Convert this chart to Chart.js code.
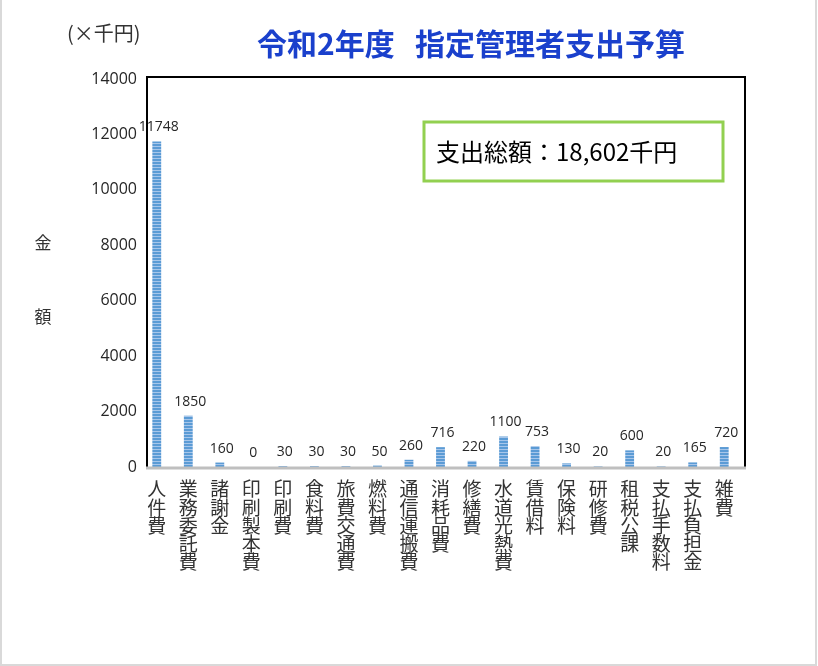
<!DOCTYPE html>
<html lang="ja">
<head>
    <meta charset="UTF-8">
    <title>令和2年度 指定管理者支出予算</title>
    <style>
        body {
            margin: 0;
            padding: 0;
            background-color: #fff;
        }
        #wrap {
            position: relative;
            width: 818px;
            height: 666px;
        }
    </style>
</head>
<body>
    <div id="wrap">
        <canvas id="budgetChart" width="818" height="666"></canvas>
    </div>

    <script src="https://cdn.jsdelivr.net/npm/chart.js"></script>
    <script>
        const categories = ['人件費', '業務委託費', '諸謝金', '印刷製本費', '印刷費', '食料費', '旅費交通費', '燃料費', '通信運搬費', '消耗品費', '修繕費', '水道光熱費', '賃借料', '保険料', '研修費', '租税公課', '支払手数料', '支払負担金', '雑費'];
        const amounts = [11748, 1850, 160, 0, 30, 30, 30, 50, 260, 716, 220, 1100, 753, 130, 20, 600, 20, 165, 720];
        const yTicks = [0, 2000, 4000, 6000, 8000, 10000, 12000, 14000];

        const titleText = '令和2年度   指定管理者支出予算';
        const unitText = '(×千円)';
        const totalText = '支出総額：18,602千円';

        const cjk = '"Noto Sans CJK JP", "Noto Sans", sans-serif';

        // striped fill like the original bars
        const pc = document.createElement('canvas');
        pc.width = 4;
        pc.height = 3;
        const pctx = pc.getContext('2d');
        pctx.fillStyle = '#5b9bd5';
        pctx.fillRect(0, 0, 4, 2);
        pctx.fillStyle = '#a7c6ea';
        pctx.fillRect(0, 2, 4, 1);
        const stripes = pctx.createPattern(pc, 'repeat');

        const decorations = {
            id: 'decorations',
            beforeDraw(chart) {
                const ctx = chart.ctx;
                ctx.save();
                ctx.fillStyle = '#fff';
                ctx.fillRect(0, 0, chart.width, chart.height);
                // page border
                ctx.strokeStyle = '#d9d9d9';
                ctx.lineWidth = 2;
                ctx.beginPath();
                ctx.moveTo(1, 0);
                ctx.lineTo(1, 665);
                ctx.lineTo(816, 665);
                ctx.lineTo(816, 0);
                ctx.stroke();
                ctx.restore();
            },
            afterDatasetsDraw(chart) {
                const ctx = chart.ctx;
                const y = chart.scales.y;
                const top = y.getPixelForValue(14000) - 2;
                const bottom = y.getPixelForValue(0);
                ctx.save();
                // plot frame
                ctx.strokeStyle = '#000';
                ctx.lineWidth = 2;
                ctx.beginPath();
                ctx.moveTo(147, bottom);
                ctx.lineTo(147, top);
                ctx.lineTo(745, top);
                ctx.lineTo(745, bottom);
                ctx.stroke();
                ctx.strokeStyle = '#bfbfbf';
                ctx.lineWidth = 3;
                ctx.beginPath();
                ctx.moveTo(146, bottom + 1);
                ctx.lineTo(746, bottom + 1);
                ctx.stroke();

                // value labels
                const meta = chart.getDatasetMeta(0);
                ctx.fillStyle = '#262626';
                ctx.font = '14px "Open Sans", sans-serif';
                ctx.textAlign = 'center';
                ctx.textBaseline = 'middle';
                meta.data.forEach((bar, i) => {
                    ctx.fillText(String(amounts[i]), bar.x + 2, bar.y - 14);
                });

                // title
                ctx.fillStyle = '#1a40cc';
                ctx.font = 'bold 30px ' + cjk;
                ctx.fillText(titleText, 471, 44);

                // unit and axis title
                ctx.fillStyle = '#333';
                ctx.font = '20px ' + cjk;
                ctx.textAlign = 'left';
                ctx.fillText(unitText, 67, 33);
                ctx.font = '17px ' + cjk;
                ctx.textAlign = 'center';
                ctx.fillText('金', 43, 243);
                ctx.fillText('額', 43, 317);

                // total box
                ctx.strokeStyle = '#92d050';
                ctx.lineWidth = 3;
                ctx.strokeRect(424, 122, 299, 59);
                ctx.fillStyle = '#000';
                ctx.font = '24px ' + cjk;
                ctx.textAlign = 'left';
                ctx.fillText(totalText, 436, 152);
                ctx.restore();
            }
        };

        const ctx = document.getElementById('budgetChart').getContext('2d');
        new Chart(ctx, {
            type: 'bar',
            data: {
                labels: categories,
                datasets: [{
                    label: '金額',
                    data: amounts,
                    backgroundColor: stripes,
                    borderWidth: 0,
                    barPercentage: 0.28,
                    categoryPercentage: 1
                }]
            },
            options: {
                responsive: false,
                animation: false,
                layout: {
                    padding: { left: 0, right: 78, top: 79, bottom: 0 }
                },
                plugins: {
                    legend: { display: false },
                    tooltip: { enabled: false }
                },
                scales: {
                    x: {
                        grid: { display: false, drawTicks: false },
                        border: { display: false },
                        afterFit(scale) { scale.height = 199; },
                        ticks: {
                            autoSkip: false,
                            maxRotation: 0,
                            minRotation: 0,
                            padding: 13,
                            color: '#333',
                            font: { family: cjk, size: 19, lineHeight: '18.2px' },
                            callback: (v, i) => categories[i].split('')
                        }
                    },
                    y: {
                        min: 0,
                        max: 14000,
                        grid: { display: false, drawTicks: false },
                        border: { display: false },
                        afterFit(scale) { scale.width = 141; },
                        afterBuildTicks(scale) {
                            scale.ticks = yTicks.map(v => ({ value: v }));
                        },
                        ticks: {
                            padding: 4,
                            color: '#262626',
                            font: { family: '"Open Sans", sans-serif', size: 16 },
                            callback: v => String(v)
                        }
                    }
                }
            },
            plugins: [decorations]
        });
    </script>
</body>
</html>
